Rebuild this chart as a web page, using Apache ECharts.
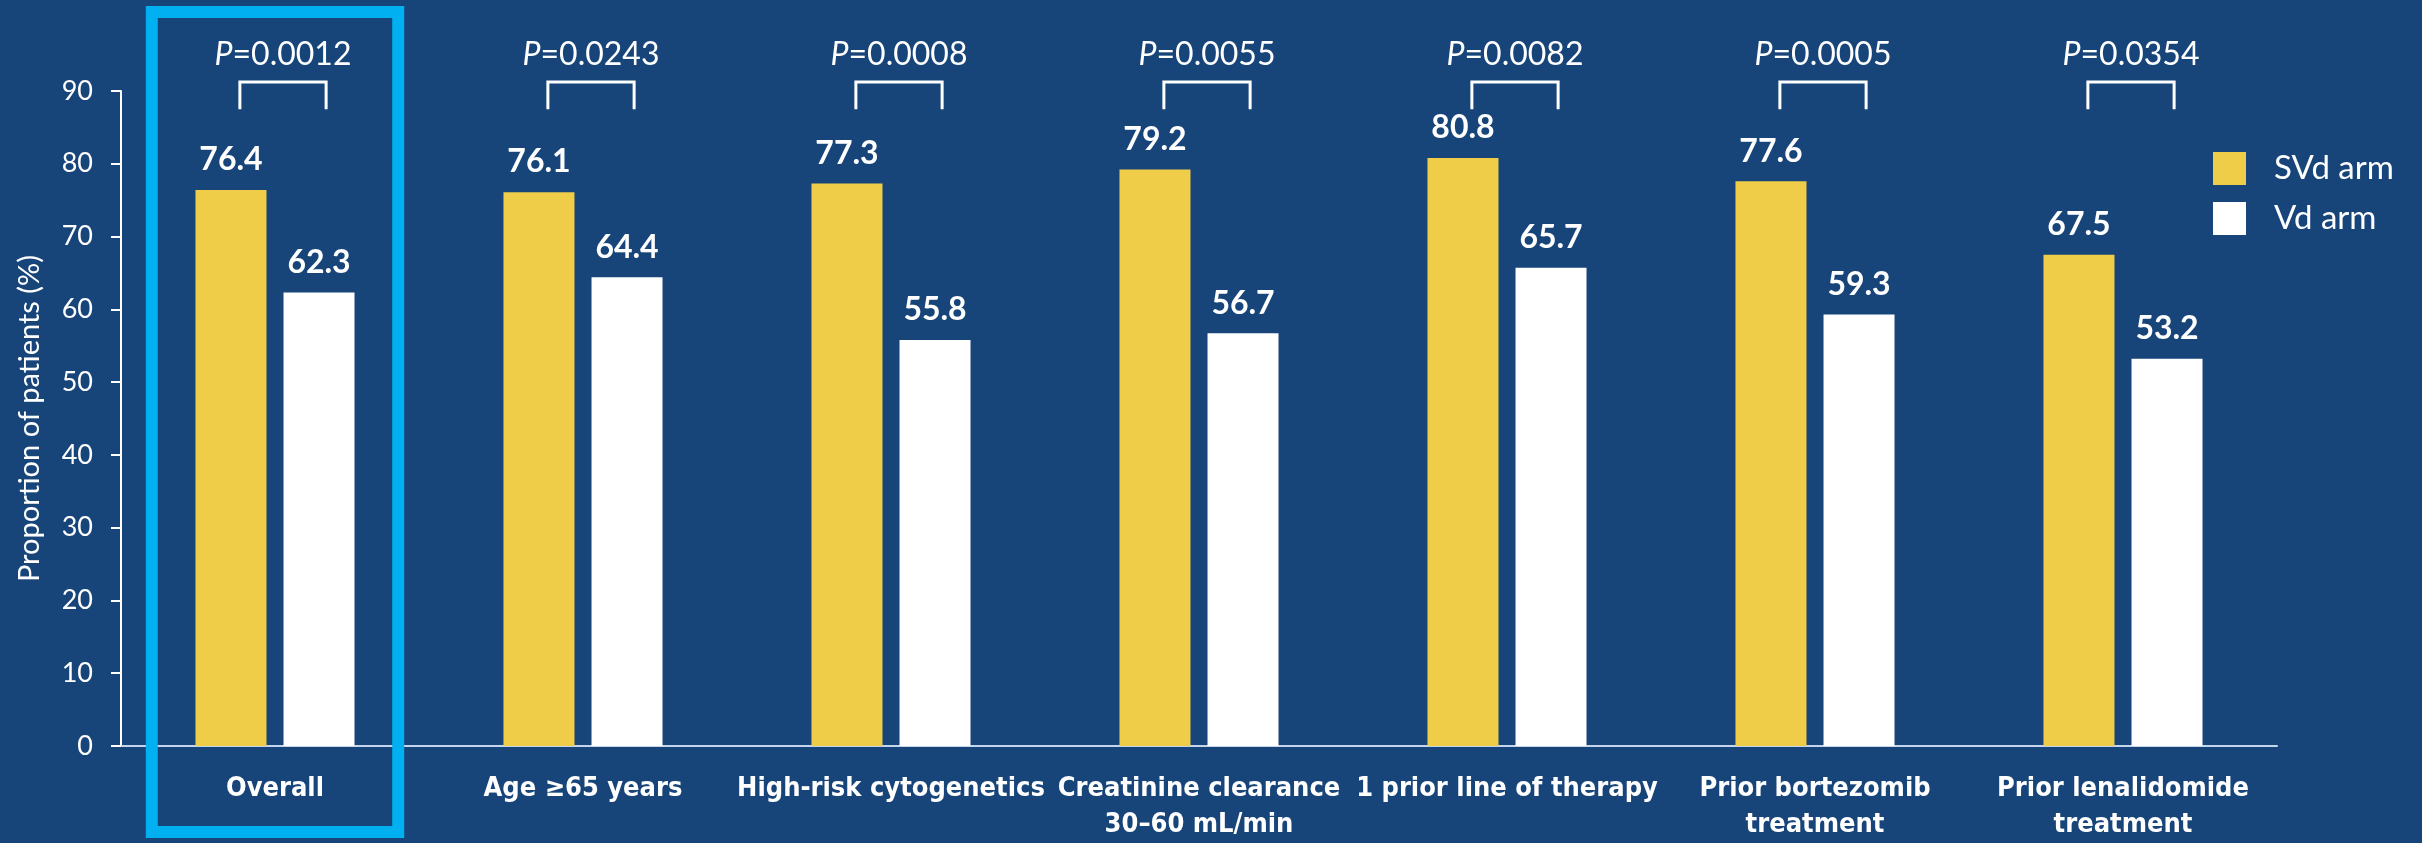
<!DOCTYPE html>
<html>
<head>
<meta charset="utf-8">
<script src="https://cdn.jsdelivr.net/npm/echarts@6/dist/echarts.min.js"></script>
<style>
  html, body { margin: 0; padding: 0; background: #17457a; }
  #chart { width: 2422px; height: 843px; }
</style>
</head>
<body>
<div id="chart"></div>
<script>
// Response rates by subgroup, SVd vs Vd
const categories = [
  'Overall',
  'Age ≥65 years',
  'High-risk cytogenetics',
  'Creatinine clearance\n30–60 mL/min',
  '1 prior line of therapy',
  'Prior bortezomib\ntreatment',
  'Prior lenalidomide\ntreatment'
];
const svdValues = [76.4, 76.1, 77.3, 79.2, 80.8, 77.6, 67.5];
const vdValues = [62.3, 64.4, 55.8, 56.7, 65.7, 59.3, 53.2];
const pValues = ['0.0012', '0.0243', '0.0008', '0.0055', '0.0082', '0.0005', '0.0354'];
const seriesNames = ['SVd arm', 'Vd arm'];
const highlighted = [0];

const BG = '#17457a';
const YELLOW = '#f0cd48';
const WHITE = '#ffffff';
const BOX = '#00b0f0';
const FONT = 'Lato, "Open Sans", sans-serif';
const NARROW = '"Liberation Sans Narrow", "DejaVu Sans Condensed", Lato, sans-serif';

const chart = echarts.init(document.getElementById('chart'), null, { renderer: 'canvas' });

const barLabel = {
  show: true,
  position: 'top',
  distance: 14,
  color: WHITE,
  fontFamily: FONT,
  fontWeight: 'bold',
  fontSize: 32,
  formatter: p => p.value.toFixed(1)
};

chart.setOption({
  backgroundColor: BG,
  animation: false,
  grid: { left: 121, right: 145, top: 91, bottom: 97, containLabel: false },
  legend: {
    data: seriesNames,
    orient: 'vertical',
    left: 2213,
    top: 152,
    padding: 0,
    itemWidth: 33,
    itemHeight: 33,
    itemGap: 17,
    icon: 'rect',
    textStyle: { color: WHITE, fontFamily: FONT, fontSize: 33, padding: [0, 0, 0, 23] }
  },
  xAxis: {
    type: 'category',
    data: categories,
    axisLine: { lineStyle: { color: '#c5d6ec', width: 2 } },
    axisTick: { show: false },
    axisLabel: {
      interval: 0,
      color: WHITE,
      fontFamily: NARROW,
      fontWeight: 'bold',
      fontSize: 27,
      lineHeight: 36,
      margin: 25
    }
  },
  yAxis: {
    type: 'value',
    min: 0,
    max: 90,
    interval: 10,
    name: 'Proportion of patients (%)',
    nameLocation: 'middle',
    nameGap: 77,
    nameTextStyle: { color: WHITE, fontFamily: FONT, fontSize: 29 },
    axisLine: { show: true, lineStyle: { color: WHITE, width: 2 } },
    axisTick: { show: true, length: 10, lineStyle: { color: WHITE, width: 2 } },
    axisLabel: { color: WHITE, fontFamily: FONT, fontSize: 27, margin: 28 },
    splitLine: { show: false }
  },
  series: [
    {
      name: seriesNames[0],
      type: 'bar',
      data: svdValues,
      barWidth: 71,
      barGap: '24%',
      itemStyle: { color: YELLOW },
      label: barLabel
    },
    {
      name: seriesNames[1],
      type: 'bar',
      data: vdValues,
      barWidth: 71,
      itemStyle: { color: WHITE },
      label: barLabel
    },
    {
      // significance brackets with P values above each group
      name: 'pval',
      type: 'custom',
      clip: false,
      z: 5,
      data: pValues.map((p, i) => [i, 90]),
      encode: { x: 0, y: 1 },
      renderItem: (params, api) => {
        const cx = api.coord([api.value(0), 0])[0] + 8;
        const half = api.size([1, 0])[0] * 0.14;
        const yTop = api.coord([0, 91.25])[1];
        const yBot = api.coord([0, 87.5])[1];
        return {
          type: 'group',
          children: [
            {
              type: 'polyline',
              shape: { points: [[cx - half, yBot], [cx - half, yTop], [cx + half, yTop], [cx + half, yBot]] },
              style: { stroke: WHITE, lineWidth: 3, fill: null }
            },
            {
              type: 'text',
              x: cx,
              y: yTop - 27,
              style: {
                text: '{i|P}{n|=' + pValues[params.dataIndex] + '}',
                align: 'center',
                verticalAlign: 'middle',
                rich: {
                  i: { fontFamily: FONT, fontSize: 32, fontStyle: 'italic', fill: WHITE, color: WHITE },
                  n: { fontFamily: FONT, fontSize: 32, fill: WHITE, color: WHITE }
                }
              }
            }
          ]
        };
      }
    },
    {
      // outline around the highlighted group
      name: 'highlight',
      type: 'custom',
      clip: false,
      z: 6,
      data: highlighted.map(i => [i, 0]),
      encode: { x: 0, y: 1 },
      renderItem: (params, api) => {
        const cx = api.coord([api.value(0), 0])[0];
        const band = api.size([1, 0])[0];
        const w = band * 0.8;
        const h = api.getHeight();
        return {
          type: 'rect',
          shape: { x: cx - w / 2, y: 12, width: w, height: h - 23 },
          style: { stroke: BOX, lineWidth: 12, fill: null }
        };
      }
    }
  ]
});
</script>
</body>
</html>
